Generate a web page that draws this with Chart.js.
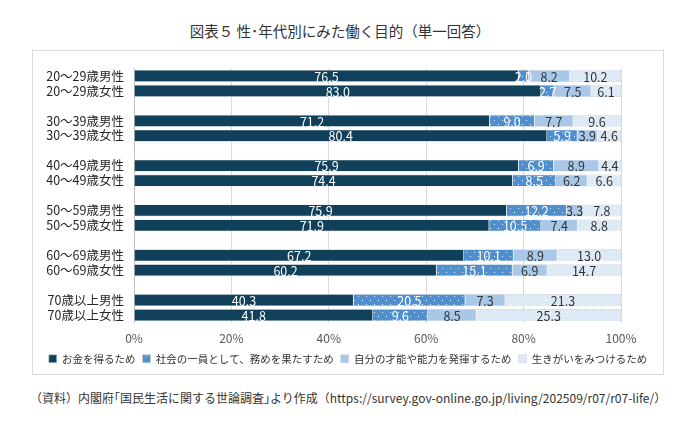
<!DOCTYPE html>
<html lang="ja">
<head>
<meta charset="utf-8">
<script src="https://cdn.jsdelivr.net/npm/chart.js@4.4.1/dist/chart.umd.min.js"></script>
<style>
  html, body { margin: 0; padding: 0; background: #fff; }
  body { width: 680px; height: 421px; position: relative; overflow: hidden;
         font-family: "Noto Sans CJK JP", "Noto Sans", sans-serif; color: #333; }
  #title { position: absolute; top: 20px; left: 0; width: 680px; text-align: center; font-size: 14.5px; }
  #frame { position: absolute; left: 32px; top: 50px; width: 630px; height: 323px;
           border: 1px solid #d9d9d9; }
  #source { position: absolute; top: 389px; left: 30px; font-size: 12px; white-space: nowrap; color: #333; }
</style>
</head>
<body>
<div id="title">図表５ 性･年代別にみた働く目的（単一回答）</div>
<div id="frame"><canvas id="chart" width="630" height="323"></canvas></div>
<div id="source">（資料）内閣府｢国民生活に関する世論調査｣より作成（https://survey.gov-online.go.jp/living/202509/r07/r07-life/）</div>
<script>
// 行ラベル（空文字はグループ間の空白行）
const categories = [
  "20～29歳男性", "20～29歳女性", "",
  "30～39歳男性", "30～39歳女性", "",
  "40～49歳男性", "40～49歳女性", "",
  "50～59歳男性", "50～59歳女性", "",
  "60～69歳男性", "60～69歳女性", "",
  "70歳以上男性", "70歳以上女性"
];
const seriesNames = [
  "お金を得るため",
  "社会の一員として、務めを果たすため",
  "自分の才能や能力を発揮するため",
  "生きがいをみつけるため"
];
const money   = [76.5, 83.0, null, 71.2, 80.4, null, 75.9, 74.4, null, 75.9, 71.9, null, 67.2, 60.2, null, 40.3, 41.8];
const society = [2.0, 2.7, null, 9.0, 5.9, null, 6.9, 8.5, null, 12.2, 10.5, null, 10.1, 15.1, null, 20.5, 9.6];
const talent  = [8.2, 7.5, null, 7.7, 3.9, null, 8.9, 6.2, null, 3.3, 7.4, null, 8.9, 6.9, null, 7.3, 8.5];
const purpose = [10.2, 6.1, null, 9.6, 4.6, null, 4.4, 6.6, null, 7.8, 8.8, null, 13.0, 14.7, null, 21.3, 25.3];
const xTicks = ["0%", "20%", "40%", "60%", "80%", "100%"];

const rawSeries = [money, society, talent, purpose];

// 100%積み上げにするため行ごとの合計で割る
const rowTotals = categories.map((c, i) =>
  rawSeries.reduce((s, arr) => s + (arr[i] || 0), 0));
const share = (arr) => arr.map((v, i) => v == null ? null : v / rowTotals[i] * 100);

function dotPattern(bg, dot, size) {
  const c = document.createElement("canvas");
  c.width = size; c.height = size;
  const g = c.getContext("2d");
  g.fillStyle = bg;
  g.fillRect(0, 0, size, size);
  g.fillStyle = dot;
  g.fillRect(1, 1, 1, 1);
  g.fillRect(1 + size / 2, 1 + size / 2, 1, 1);
  return g.createPattern(c, "repeat");
}

const fills = [
  "#11405a",
  dotPattern("#4d8fd0", "rgba(255,255,255,0.85)", 8),
  "#a9c8e8",
  dotPattern("#dce9f6", "rgba(255,255,255,0.9)", 8)
];
const labelColors = ["#ffffff", "#ffffff", "#333333", "#333333"];

const FONT = "'Noto Sans CJK JP', 'Noto Sans', sans-serif";

// 各区間の中央に元の数値を書く
const valueLabelPlugin = {
  id: "valueLabelPlugin",
  afterDatasetsDraw(chart) {
    const ctx = chart.ctx;
    ctx.save();
    ctx.font = "12.5px " + FONT;
    ctx.textAlign = "center";
    ctx.textBaseline = "middle";
    chart.data.datasets.forEach((ds, i) => {
      const meta = chart.getDatasetMeta(i);
      meta.data.forEach((el, j) => {
        const v = rawSeries[i][j];
        if (v == null) return;
        const p = el.getCenterPoint();
        ctx.fillStyle = labelColors[i];
        ctx.fillText(v.toFixed(1), p.x, p.y + 1);
      });
    });
    ctx.restore();
  }
};

new Chart(document.getElementById("chart"), {
  type: "bar",
  data: {
    labels: categories,
    datasets: rawSeries.map((arr, i) => ({
      label: seriesNames[i],
      data: share(arr),
      backgroundColor: fills[i],
      borderColor: "#c9d3dc",
      borderWidth: 0.6,
      barPercentage: 0.8,
      categoryPercentage: 1.0
    }))
  },
  options: {
    indexAxis: "y",
    responsive: false,
    animation: false,
    devicePixelRatio: 1,
    layout: { padding: { top: 17, right: 0, left: 0, bottom: 0 } },
    scales: {
      x: {
        stacked: true,
        min: 0,
        max: 100,
        border: { display: false },
        grid: { color: "#d9d9d9", drawTicks: false },
        ticks: {
          stepSize: 20,
          padding: 9,
          color: "#595959",
          font: { size: 12, family: FONT },
          callback: (v, idx) => xTicks[idx]
        },
        afterFit(scale) { scale.height = 24; }
      },
      y: {
        stacked: true,
        border: { display: true, color: "#bfbfbf" },
        grid: { display: false, drawTicks: false },
        ticks: {
          padding: 10,
          autoSkip: false,
          color: "#262626",
          font: { size: 12.5, family: FONT }
        },
        afterFit(scale) { scale.width = 101; }
      },
      // 右側の余白を確保するだけの空の軸
      gap: {
        type: "linear",
        position: "right",
        display: true,
        min: 0,
        max: 1,
        border: { display: false },
        grid: { display: false, drawTicks: false },
        ticks: { display: false },
        afterFit(scale) { scale.width = 42; }
      }
    },
    plugins: {
      legend: {
        position: "bottom",
        labels: {
          boxWidth: 8,
          boxHeight: 8,
          padding: 7,
          color: "#333",
          font: { size: 10.5, family: FONT }
        }
      },
      tooltip: { enabled: false },
      title: { display: false }
    }
  },
  plugins: [valueLabelPlugin]
});
</script>
</body>
</html>
